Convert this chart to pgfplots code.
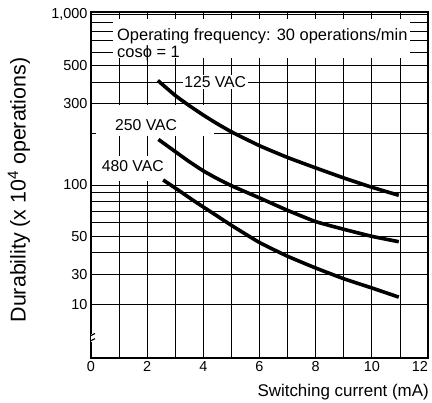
\documentclass[border=0pt]{standalone}
\usepackage{fontspec}
\setmainfont{Liberation Sans}
\usepackage{pgfplots}
\pgfplotsset{compat=1.18}
\begin{document}
\begin{tikzpicture}
\useasboundingbox (0,0) rectangle (432bp,403bp);
\begin{axis}[
  at={(91bp,45bp)}, anchor=south west,
  scale only axis, width=337bp, height=346bp,
  xmin=0, xmax=12, ymode=log, ymin=9.67, ymax=1034,
  xtick={0,2,...,12}, minor xtick={1,3,...,11},
  xticklabels={0,2,4,6,8,10,\llap{12}},
  ytick={20,30,50,100,300,500,1000},
  yticklabels={10,30,50,100,300,500,{1,000}},
  minor ytick={40,60,70,80,90,200,400,600,700,800,900},
  grid=both,
  major grid style={black, line width=0.8bp},
  minor grid style={black, line width=0.8bp},
  major tick length=0pt, minor tick length=0pt,
  axis line style={line width=1.6bp},
  tick label style={font=\fontsize{14.5}{16}\selectfont},
  /pgf/number format/assume math mode=true,
  xlabel={Switching current (mA)},
  xlabel style={font=\fontsize{17}{20}\selectfont, inner sep=0pt, anchor=base east, at={(axis description cs:1.003,-0.11)}},
  ylabel={Durability (x 10\textsuperscript{4} operations)},
  ylabel style={font=\fontsize{21.5}{24}\selectfont, anchor=center, at={(axis description cs:-0.2136,0.4855)}},
]
% white areas behind annotations
\fill[white] (axis cs:0.78,556) rectangle (axis cs:11.36,942);
\fill[white] (axis cs:0.18,194) rectangle (axis cs:4.38,296);
\fill[white] (axis cs:0.18,105.5) rectangle (axis cs:2.81,148);

\addplot[black, line width=3.6bp, smooth, tension=0.3] coordinates {
(2.38,410) (3,335) (3.5,292) (4,257) (4.45,231) (5,205) (6,170) (7,145) (8,126) (9,110) (10,97) (10.96,87)};
\addplot[black, line width=3.6bp, smooth, tension=0.3] coordinates {
(2.40,185) (3,157) (3.5,137) (4,121) (4.45,110) (5,99) (6,84) (7,71) (8,61) (9,55) (10,50) (10.96,46.5)};
\addplot[black, line width=3.6bp, smooth, tension=0.3] coordinates {
(2.57,107) (3,96) (3.7,80) (4.45,66.5) (5,58) (6,46) (7,38.2) (8,32.6) (9,28.2) (10,24.9) (10.96,22)};

\node[anchor=base west, inner sep=0pt, font=\fontsize{16.5}{18}\selectfont] at (axis cs:0.926,702) {Operating frequency: 30 operations/min};
\node[anchor=base west, inner sep=0pt, font=\fontsize{16.5}{18}\selectfont] at (axis cs:0.926,558) {cos\char"03D5\ = 1};
\node[anchor=base west, inner sep=1.5bp, fill=white, font=\fontsize{15.8}{18}\selectfont] at (axis cs:3.26,374) {125 VAC};
\node[anchor=base west, inner sep=0pt, font=\fontsize{15.8}{18}\selectfont] at (axis cs:0.855,207.5) {250 VAC};
\node[anchor=base west, inner sep=0pt, font=\fontsize{15.8}{18}\selectfont] at (axis cs:0.38,119.7) {480 VAC};

% axis break
\fill[white] ([xshift=-2bp]rel axis cs:0,0.046) rectangle ([xshift=2bp]rel axis cs:0,0.069);
\draw[line width=1.2bp] ([xshift=-4bp,yshift=-2bp]rel axis cs:0,0.050) -- ([xshift=4bp,yshift=2bp]rel axis cs:0,0.050);
\draw[line width=1.2bp] ([xshift=-4bp,yshift=-2bp]rel axis cs:0,0.065) -- ([xshift=4bp,yshift=2bp]rel axis cs:0,0.065);
\end{axis}
\end{tikzpicture}
\end{document}
